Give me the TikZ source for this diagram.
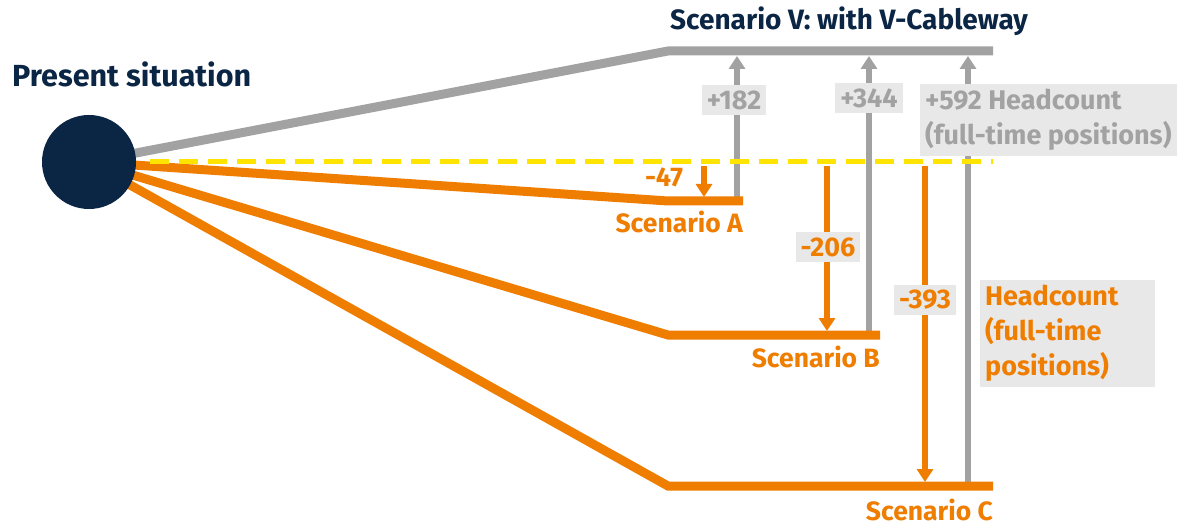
\documentclass[tikz,border=0pt]{standalone}
\usepackage{fontspec}
\setmainfont{Fira Sans}
\usetikzlibrary{arrows.meta,backgrounds}
\definecolor{navy}{HTML}{0B2545}
\definecolor{orng}{HTML}{EF7D00}
\definecolor{lgray}{HTML}{A2A2A2}
\definecolor{boxgray}{HTML}{E8E8E8}
\definecolor{yel}{HTML}{FFE400}
\tikzset{
  route/.style={line width=9pt},
  grayroute/.style={route,draw=lgray},
  orngroute/.style={route,draw=orng},
  baseline dash/.style={draw=yel,line width=5pt,dash pattern=on 19pt off 10pt},
  delta/.style={-{Triangle[width=16pt,length=13pt]}},
  up/.style={delta,line width=5.5pt,draw=lgray},
  down/.style={delta,line width=6pt,draw=orng},
  title/.style={text=navy,inner sep=0pt,anchor=base west},
  scen/.style={font=\bfseries\fontsize{26.5}{30}\selectfont,text=orng,inner sep=0pt,anchor=base east},
  valbox/.style={fill=boxgray,inner xsep=5pt,inner ysep=5pt,font=\bfseries\fontsize{27}{35}\selectfont,align=left},
  gbox/.style={valbox,text=lgray},
  obox/.style={valbox,text=orng},
}
\begin{document}
\begin{tikzpicture}[x=1pt,y=-1pt]
\useasboundingbox (0,0) rectangle (1183,529);

% starting point
\node[circle,fill=navy,minimum size=94pt,inner sep=0pt] (P) at (89,162) {};
\node[title,font=\bfseries\fontsize{30.5}{34}\selectfont] (ps) at (12,87) {Present situation};
\node[title,font=\bfseries\fontsize{28}{32}\selectfont] (sv) at (670,30) {Scenario V: with V-Cableway};

% bends and ends of the scenario lines
\coordinate (vk) at (668,51);  \coordinate (ve) at (993,51);
\coordinate (ak) at (668,201); \coordinate (ae) at (743,201);
\coordinate (bk) at (668,335); \coordinate (be) at (880,335);
\coordinate (ck) at (668,486); \coordinate (ce) at (993,486);
\coordinate (ys) at (150,162); \coordinate (ye) at (993,162);

% arrow end points
\coordinate (ga0) at (737,200); \coordinate (ga1) at (737,56);
\coordinate (gb0) at (869,335); \coordinate (gb1) at (869,56);
\coordinate (gc0) at (968,486); \coordinate (gc1) at (968,56);
\coordinate (oa0) at (704,166); \coordinate (oa1) at (704,197);
\coordinate (ob0) at (827,166); \coordinate (ob1) at (827,331);
\coordinate (oc0) at (925,166); \coordinate (oc1) at (925,482);

\begin{scope}[on background layer]
  \fill[white] (0,0) rectangle (1183,529);
  \draw[up] (ga0) -- (ga1);
  \draw[up] (gb0) -- (gb1);
  \draw[up] (gc0) -- (gc1);
  \draw[down] (oa0) -- (oa1);
  \draw[down] (ob0) -- (ob1);
  \draw[down] (oc0) -- (oc1);
  \draw[grayroute] (P.center) -- (vk) -- (ve);
  \draw[orngroute] (P.center) -- (ak) -- (ae);
  \draw[orngroute] (P.center) -- (bk) -- (be);
  \draw[orngroute] (P.center) -- (ck) -- (ce);
  \draw[baseline dash] (ys) -- (ye);
\end{scope}

% value labels
\node[gbox] (l182) at (734,100) {+182};
\node[gbox] (l344) at (869,98) {+344};
\node[gbox,anchor=north west] (l592) at (920,84) {+592 Headcount\\(full-time positions)};
\node[font=\bfseries\fontsize{27}{30}\selectfont,text=orng,inner sep=0pt] (l47) at (664,177) {-47};
\node[obox] (l206) at (828,247) {-206};
\node[obox] (l393) at (925,300) {-393};
\node[obox,anchor=north west,text width=165pt] (hc) at (980,280) {Headcount\\(full-time\\positions)};

% scenario names
\node[scen] (sa) at (ae |- 0,233) {Scenario A};
\node[scen] (sb) at (be |- 0,367) {Scenario B};
\node[scen] (sc) at (ce |- 0,520) {Scenario C};
\end{tikzpicture}
\end{document}
